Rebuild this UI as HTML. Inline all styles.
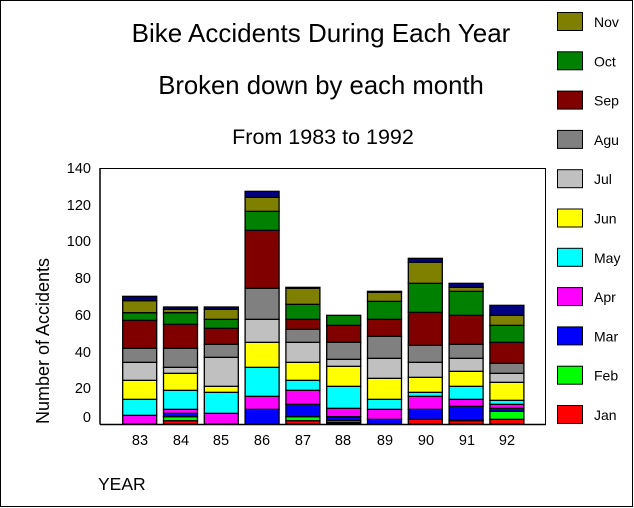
<!DOCTYPE html>
<html><head><meta charset="utf-8"><style>
html,body{margin:0;padding:0;background:#fff}
svg{display:block}
text{font-family:"Liberation Sans",Arial,sans-serif;fill:#000}
</style></head><body>
<svg id="s" width="634" height="508" xmlns="http://www.w3.org/2000/svg">
<rect x="0.5" y="0.5" width="632" height="506" fill="#fff" stroke="#000"/>
<text x="321" y="42" font-size="26" text-anchor="middle">Bike Accidents During Each Year</text>
<text x="321" y="94" font-size="25.7" text-anchor="middle">Broken down by each month</text>
<text x="323" y="144" font-size="21.5" text-anchor="middle">From 1983 to 1992</text>
<g id="bars"></g>
<line x1="100" y1="168" x2="100" y2="424.5" stroke="#000" stroke-width="1.5"/>
<line x1="100" y1="424.5" x2="546" y2="424.5" stroke="#000" stroke-width="1.5"/>
<polyline points="100,168.5 545.5,168.5 545.5,424" fill="none" stroke="#000"/>
<g font-size="14.5" text-anchor="end">
<text x="91" y="173">140</text><text x="91" y="210">120</text><text x="91" y="246">100</text>
<text x="91" y="283">80</text><text x="91" y="320">60</text><text x="91" y="357">40</text>
<text x="91" y="393">20</text><text x="91" y="422">0</text>
</g>
<g font-size="14.5" text-anchor="middle">
<text x="140" y="445">83</text><text x="181" y="445">84</text><text x="221" y="445">85</text>
<text x="262" y="445">86</text><text x="303" y="445">87</text><text x="343" y="445">88</text>
<text x="385" y="445">89</text><text x="426" y="445">90</text><text x="467" y="445">91</text>
<text x="507" y="445">92</text>
</g>
<text transform="translate(49,341) rotate(-90)" font-size="18" text-anchor="middle">Number of Accidents</text>
<text x="98" y="490" font-size="17.5">YEAR</text>
<g id="leg" font-size="14"></g>
</svg>
<script>
var C={Jan:"#ff0000",Feb:"#00ff00",Mar:"#0000ff",Apr:"#ff00ff",May:"#00ffff",Jun:"#ffff00",Jul:"#c0c0c0",Agu:"#808080",Sep:"#800000",Oct:"#008000",Nov:"#808000",Dec:"#000080"};
var D=[
[["Apr",766],["May",718],["Jun",661],["Jul",607],["Agu",565],["Sep",481],["Oct",458],["Nov",422],["Dec",409]],
[["Jan",782],["Feb",770],["Mar",760],["Apr",748],["May",691],["Jun",640],["Jul",622],["Agu",565],["Sep",493],["Oct",458],["Nov",448],["Dec",441]],
[["Apr",760],["May",697],["Jun",679],["Jul",592],["Agu",553],["Sep",505],["Oct",478],["Nov",448],["Dec",441]],
[["Mar",748],["Apr",709],["May",622],["Jun",547],["Jul",478],["Agu",385],["Sep",211],["Oct",154],["Nov",112],["Dec",94]],
[["Jan",782],["Feb",770],["Mar",733],["Apr",691],["May",661],["Jun",607],["Jul",547],["Agu",508],["Sep",478],["Oct",433],["Nov",385],["Dec",382]],
[["Jan",788],["Feb",782],["Mar",770],["Apr",745],["May",679],["Jun",619],["Jul",598],["Agu",547],["Sep",496],["Oct",466]],
[["Mar",778],["Apr",748],["May",718],["Jun",655],["Jul",595],["Agu",529],["Sep",478],["Oct",424],["Nov",397],["Dec",394]],
[["Jan",778],["Mar",748],["Apr",709],["May",697],["Jun",652],["Jul",607],["Agu",556],["Sep",457],["Oct",370],["Nov",307],["Dec",295]],
[["Jan",782],["Feb",779],["Mar",739],["Apr",718],["May",679],["Jun",634],["Jul",595],["Agu",553],["Sep",466],["Oct",394],["Nov",382],["Dec",370]],
[["Jan",778],["Feb",754],["Mar",745],["Apr",733],["May",721],["Jun",667],["Jul",640],["Agu",610],["Sep",547],["Oct",496],["Nov",466],["Dec",436]]
];
var ns="http://www.w3.org/2000/svg",g=document.getElementById("bars");
D.forEach(function(b,i){var x=122.7+40.8*i,prev=424;
b.forEach(function(s){var t=s[1]/3+160;var r=document.createElementNS(ns,"rect");
r.setAttribute("x",x);r.setAttribute("y",t);r.setAttribute("width",34);r.setAttribute("height",Math.max(prev-t,0.5));
r.setAttribute("fill",C[s[0]]);r.setAttribute("stroke","#000");r.setAttribute("stroke-width","1.3");g.appendChild(r);prev=t;});});
var L=["Nov","Oct","Sep","Agu","Jul","Jun","May","Apr","Mar","Feb","Jan"],lg=document.getElementById("leg");
L.forEach(function(n,i){var y=12+39.3*i;var r=document.createElementNS(ns,"rect");
r.setAttribute("x",557.5);r.setAttribute("y",y+0.5);r.setAttribute("width",25);r.setAttribute("height",18);
r.setAttribute("fill",C[n]);r.setAttribute("stroke","#000");lg.appendChild(r);
var t=document.createElementNS(ns,"text");t.setAttribute("x",594);t.setAttribute("y",y+15);t.textContent=n;lg.appendChild(t);});
</script>
</body></html>
